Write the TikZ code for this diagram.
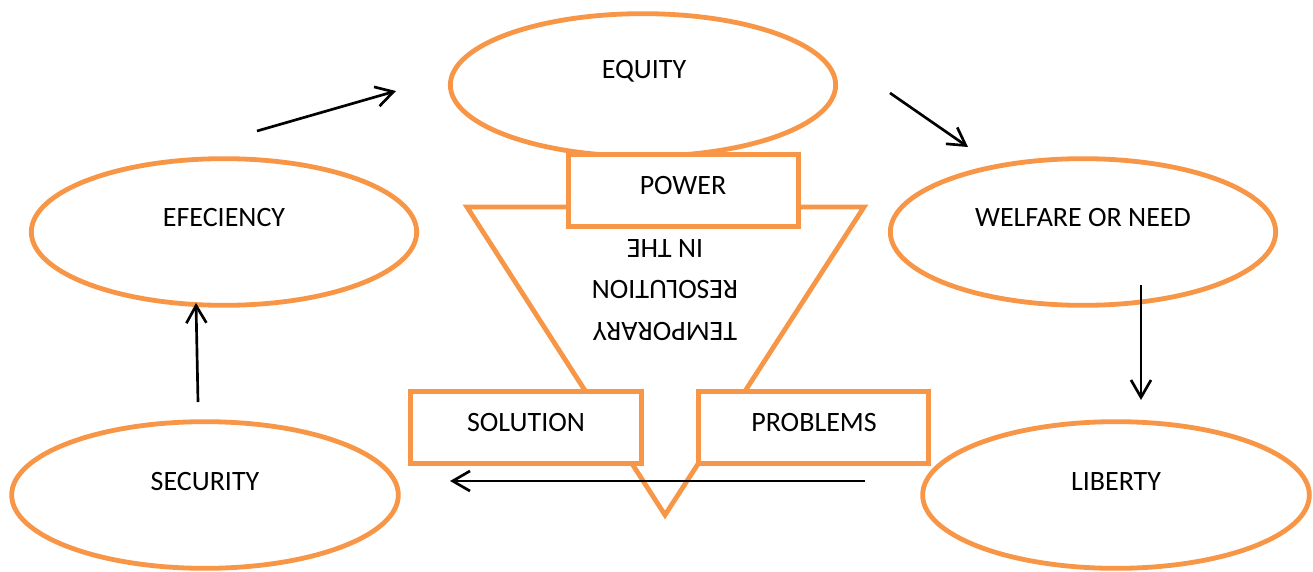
\documentclass[tikz,border=0pt]{standalone}
\usepackage{fontspec}
\setmainfont{Carlito}
\usetikzlibrary{shapes.geometric,arrows.meta}
\definecolor{accor}{HTML}{F79646}
\tikzset{
  oval/.style={ellipse, draw=accor, line width=3.6pt, fill=white, inner sep=0pt},
  box/.style={rectangle, draw=accor, line width=3.6pt, fill=white, inner sep=0pt, minimum width=173pt, minimum height=54pt},
  lbl/.style={font=\fontsize{21pt}{31pt}\selectfont, text=black, inner sep=0pt},
  arr/.style={black, line width=2pt, -{Straight Barb[length=13pt,width=15pt]}},
}
\begin{document}
\begin{tikzpicture}[x=0.75pt,y=-0.75pt]
\useasboundingbox (0,0) rectangle (1313,571);
% ellipses
\node[oval, minimum width=289pt, minimum height=107pt] (equity) at (643,85) {};
\node[oval, minimum width=289pt, minimum height=110pt] (effic) at (224,232) {};
\node[oval, minimum width=289pt, minimum height=110pt] (welfare) at (1083,232) {};
\node[oval, minimum width=290pt, minimum height=110pt] (security) at (205,495) {};
\node[oval, minimum width=290pt, minimum height=110pt] (liberty) at (1116,495) {};
% triangle
\coordinate (tl) at (467,207);
\coordinate (tr) at (864,207);
\coordinate (tb) at (665,515);
\draw[accor, line width=3.6pt, line join=miter] (tl) -- (tr) -- (tb) -- cycle;
% boxes
\node[box] (power) at (683.5,190.5) {};
\node[box] (solution) at (526,427.5) {};
\node[box] (problems) at (813.5,427.5) {};
% texts
\node[lbl] (tequity) at (644,71) {EQUITY};
\node[lbl] (teffic) at (224,218) {EFECIENCY};
\node[lbl] (twelfare) at (1083,218) {WELFARE OR NEED};
\node[lbl] (tsecurity) at (205,482) {SECURITY};
\node[lbl] (tliberty) at (1116,482) {LIBERTY};
\node[lbl] (tpower) at (683,186) {POWER};
\node[lbl] (tsolution) at (526,423) {SOLUTION};
\node[lbl] (tproblems) at (814,423) {PROBLEMS};
\node[lbl, rotate=180, align=center] (tres) at (665,290) {TEMPORARY\\RESOLUTION\\IN THE};
% arrows
\coordinate (a1s) at (257,131); \coordinate (a1e) at (396,91);
\coordinate (a2s) at (890,93);  \coordinate (a2e) at (968,147);
\coordinate (a3s) at (1141,285); \coordinate (a3e) at (1141,400);
\coordinate (a4s) at (865,481); \coordinate (a4e) at (450,481);
\coordinate (a5s) at (198,402); \coordinate (a5e) at (196,303);
\draw[arr] (a1s) -- (a1e);
\draw[arr] (a2s) -- (a2e);
\draw[arr] (a3s) -- (a3e);
\draw[arr] (a4s) -- (a4e);
\draw[arr] (a5s) -- (a5e);
\end{tikzpicture}
\end{document}
